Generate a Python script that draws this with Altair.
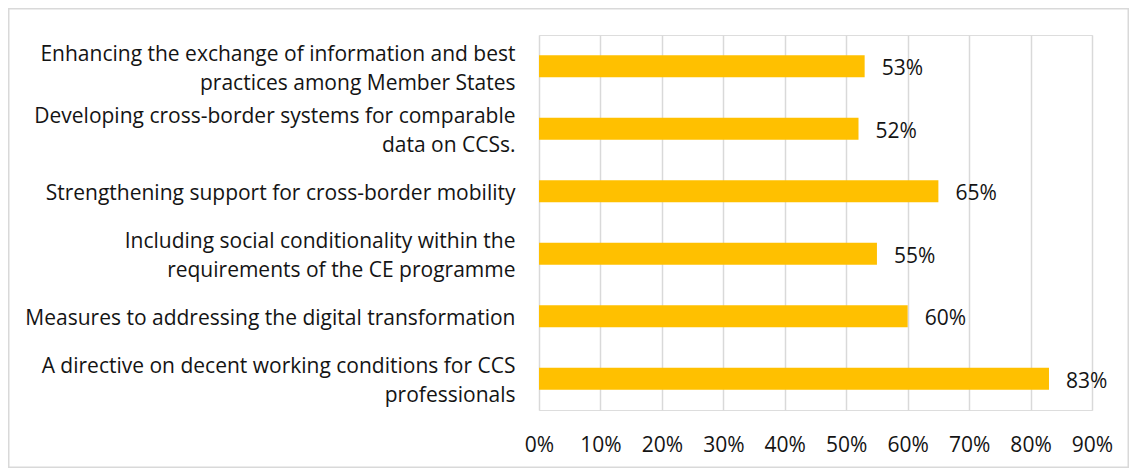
import altair as alt
import pandas as pd

categories = [
    "Enhancing the exchange of information and best\npractices among Member States",
    "Developing cross-border systems for comparable\ndata on CCSs.",
    "Strengthening support for cross-border mobility",
    "Including social conditionality within the\nrequirements of the CE programme",
    "Measures to addressing the digital transformation",
    "A directive on decent working conditions for CCS\nprofessionals",
]
values = [0.53, 0.52, 0.65, 0.55, 0.60, 0.83]
tick_values = [0, 0.1, 0.2, 0.3, 0.4, 0.5, 0.6, 0.7, 0.8, 0.9]

df = pd.DataFrame({"category": categories, "value": values})

FONT = "Open Sans"
FS = 21
TXT = "#141414"
W, H = 553, 375
PL, PT, PR, PB = 531, 27, 37, 58
LINE_H = 29
SHIFT = 3

x_scale = alt.Scale(domain=[0, 0.9], nice=False, zero=True)
y_scale = alt.Scale(domain=categories, paddingInner=0.65, paddingOuter=0.325)

base = alt.Chart(df)

bars = base.mark_bar(color="#FFC000").encode(
    x=alt.X("value:Q", scale=x_scale,
            axis=alt.Axis(values=tick_values, format=".0%", title=None,
                          grid=True, gridColor="#D9D9D9", gridWidth=1.5,
                          domain=False, ticks=False, labelFont=FONT,
                          labelFontSize=FS, labelColor=TXT,
                          labelPadding=24, labelFlush=False)),
    y=alt.Y("category:N", scale=y_scale, sort=categories,
            axis=alt.Axis(title=None, domain=False, ticks=False,
                          labelExpr="split(datum.value, '\\n')",
                          labelOffset={"condition": {"test": "indexof(datum.value, '\\n') >= 0",
                                                     "value": -LINE_H / 2 + SHIFT},
                                       "value": SHIFT},
                          labelFont=FONT, labelFontSize=FS,
                          labelColor=TXT, labelPadding=24,
                          labelLineHeight=LINE_H, labelLimit=0)),
)

labels = base.mark_text(align="left", baseline="middle", dx=17, dy=SHIFT,
                        font=FONT, fontSize=FS, color=TXT).encode(
    x=alt.X("value:Q", scale=x_scale),
    y=alt.Y("category:N", scale=y_scale, sort=categories),
    text=alt.Text("value:Q", format=".0%"),
)

border = alt.Chart(pd.DataFrame({"a": [0]})).mark_rect(
    fill=None, stroke="#D9D9D9", strokeWidth=1.5
).encode(
    x=alt.value(-PL + 0.75), x2=alt.value(W + PR - 0.75),
    y=alt.value(-PT + 0.75), y2=alt.value(H + PB - 0.75),
)

chart = alt.layer(border, bars, labels).properties(
    width=W, height=H,
    padding={"left": PL, "top": PT, "right": PR, "bottom": PB},
    autosize=alt.AutoSizeParams(type="none"),
).configure_view(stroke=None).configure(background="white")

chart.save("out.html", embed_options={"renderer": "svg", "actions": False})
